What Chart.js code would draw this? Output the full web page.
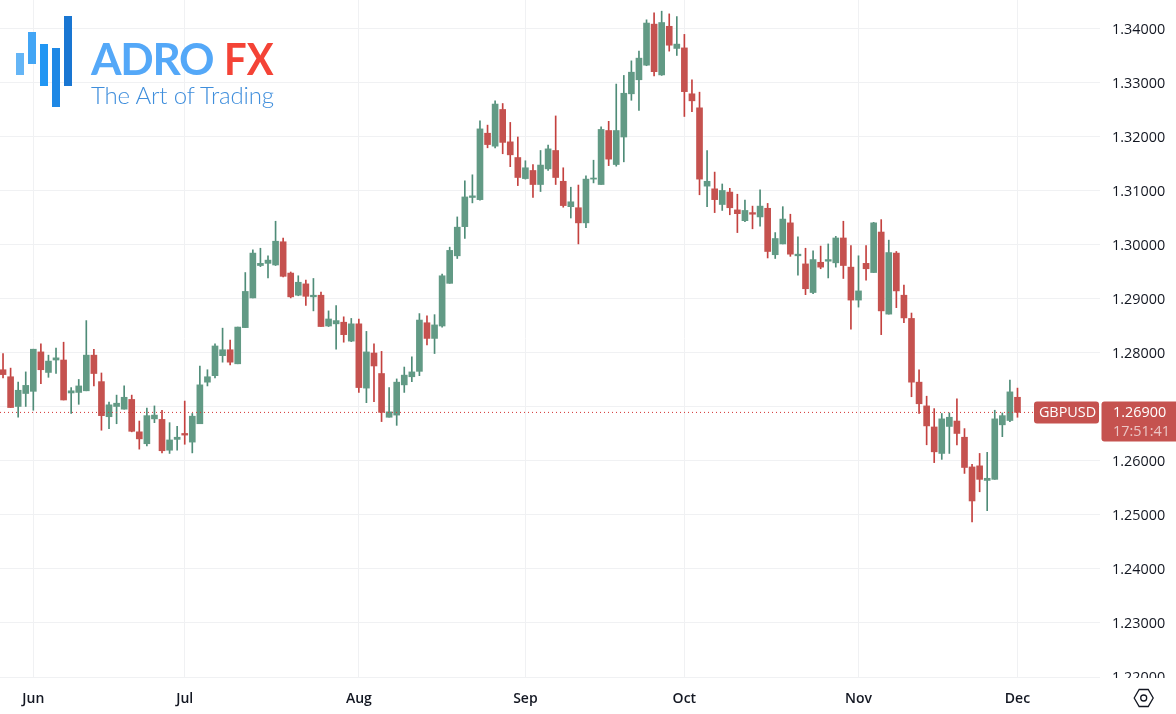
<!doctype html>
<html>
<head>
    <meta charset="UTF-8"/>
    <title>GBPUSD Chart</title>
    <style type="text/css">
        body { margin: 0; padding: 0; background-color: #fff; }
        #wrap { position: relative; width: 1176px; height: 714px; overflow: hidden; }
        canvas { position: absolute; left: 0; top: 0; }
        .bar { position: absolute; width: 8px; }
        .logo { position: absolute; white-space: nowrap; font-family: 'Lato', sans-serif; line-height: 1; transform-origin: left center; }
    </style>
</head>
<body>
<div id="wrap">
    <canvas id="myChart" width="1176" height="714"></canvas>
    <div class="bar" style="left:16px;top:53px;height:22px;background:#64b5f6"></div>
    <div class="bar" style="left:28px;top:32px;height:32px;background:#42a5f5"></div>
    <div class="bar" style="left:40px;top:44px;height:42px;background:#2196f3"></div>
    <div class="bar" style="left:52px;top:48px;height:59px;background:#1e88e5"></div>
    <div class="bar" style="left:64px;top:16px;height:70px;background:#1976d2"></div>
    <div class="logo" style="left:91px;top:36px;font-size:44px;font-weight:700;letter-spacing:-1.3px;color:#54a8f8">ADRO</div>
    <div class="logo" style="left:224px;top:36px;font-size:44px;font-weight:700;transform:scaleX(0.91);color:#f44336">FX</div>
    <div class="logo" style="left:91px;top:83px;font-size:24px;font-weight:300;letter-spacing:-0.15px;color:#3f8edc">The Art of Trading</div>
</div>

<script src="https://cdn.jsdelivr.net/npm/chart.js"></script>
<script>
    // Daily candles
    const opens = [
        1.2769,1.2756,1.2701,1.2725,1.2729,1.2802,1.2764,1.2787,1.2787,1.2726,
        1.2727,1.2730,1.2796,1.2747,1.2682,1.2701,1.2696,1.2714,1.2654,1.2632,
        1.2678,1.2677,1.2620,1.2640,1.2651,1.2635,1.2669,1.2746,1.2758,1.2795,
        1.2806,1.2780,1.2847,1.2902,1.2962,1.2966,1.2963,1.3006,1.2948,1.2907,
        1.2928,1.2904,1.2907,1.2850,1.2854,1.2857,1.2822,1.2854,1.2735,1.2800,
        1.2762,1.2681,1.2685,1.2741,1.2756,1.2766,1.2856,1.2827,1.2850,1.2929,
        1.2980,1.3034,1.3088,1.3084,1.3207,1.3183,1.3251,1.3191,1.3162,1.3123,
        1.3138,1.3112,1.3141,1.3175,1.3118,1.3071,1.3069,1.3041,1.3122,1.3112,
        1.3212,1.3149,1.3200,1.3280,1.3306,1.3333,1.3409,1.3315,1.3405,1.3364,
        1.3365,1.3280,1.3254,1.3109,1.3104,1.3075,1.3098,1.3065,1.3045,1.3060,
        1.3052,1.3068,1.2982,1.3002,1.3041,1.2980,1.2965,1.2912,1.2968,1.2970,
        1.2967,1.3013,1.2959,1.2898,1.2966,1.2949,1.3024,1.2872,1.2985,1.2907,
        1.2864,1.2746,1.2702,1.2663,1.2614,1.2664,1.2674,1.2644,1.2589,1.2591,
        1.2564,1.2566,1.2667,1.2675,1.2718
    ];
    const highs = [
        1.2799,1.2772,1.2746,1.2765,1.2807,1.2817,1.2796,1.2809,1.2820,1.2736,
        1.2751,1.2860,1.2807,1.2763,1.2709,1.2722,1.2739,1.2722,1.2674,1.2698,
        1.2702,1.2694,1.2671,1.2664,1.2711,1.2688,1.2776,1.2769,1.2817,1.2846,
        1.2824,1.2848,1.2949,1.2991,1.2994,1.2980,1.3044,1.3013,1.2950,1.2943,
        1.2935,1.2938,1.2913,1.2878,1.2888,1.2867,1.2864,1.2863,1.2840,1.2817,
        1.2803,1.2736,1.2752,1.2774,1.2793,1.2873,1.2869,1.2871,1.2946,1.2996,
        1.3052,1.3119,1.3130,1.3230,1.3222,1.3267,1.3262,1.3227,1.3200,1.3156,
        1.3149,1.3175,1.3185,1.3239,1.3143,1.3107,1.3111,1.3128,1.3157,1.3219,
        1.3229,1.3298,1.3314,1.3341,1.3359,1.3417,1.3430,1.3433,1.3428,1.3423,
        1.3390,1.3306,1.3283,1.3175,1.3135,1.3113,1.3105,1.3094,1.3083,1.3072,
        1.3102,1.3077,1.3023,1.3071,1.3057,1.3015,1.2994,1.2989,1.2998,1.3002,
        1.3016,1.3044,1.2999,1.2980,1.2999,1.3042,1.3047,1.3009,1.2988,1.2926,
        1.2874,1.2769,1.2720,1.2697,1.2688,1.2689,1.2715,1.2660,1.2594,1.2614,
        1.2616,1.2694,1.2689,1.2750,1.2735
    ];
    const lows = [
        1.2754,1.2699,1.2681,1.2701,1.2694,1.2743,1.2755,1.2762,1.2713,1.2688,
        1.2705,1.2730,1.2739,1.2657,1.2660,1.2669,1.2696,1.2654,1.2622,1.2628,
        1.2671,1.2615,1.2614,1.2620,1.2631,1.2615,1.2669,1.2739,1.2754,1.2783,
        1.2778,1.2780,1.2847,1.2902,1.2960,1.2939,1.2962,1.2941,1.2902,1.2906,
        1.2888,1.2878,1.2849,1.2849,1.2807,1.2820,1.2821,1.2727,1.2708,1.2710,
        1.2673,1.2681,1.2666,1.2727,1.2747,1.2758,1.2815,1.2799,1.2848,1.2929,
        1.2975,1.3012,1.3078,1.3083,1.3180,1.3180,1.3169,1.3145,1.3110,1.3122,
        1.3088,1.3099,1.3138,1.3112,1.3070,1.3050,1.3002,1.3032,1.3115,1.3112,
        1.3147,1.3146,1.3154,1.3268,1.3249,1.3332,1.3313,1.3314,1.3359,1.3351,
        1.3238,1.3247,1.3093,1.3071,1.3060,1.3064,1.3056,1.3023,1.3043,1.3030,
        1.3035,1.2976,1.2975,1.3002,1.2979,1.2944,1.2908,1.2910,1.2956,1.2939,
        1.2959,1.2938,1.2844,1.2885,1.2935,1.2949,1.2834,1.2872,1.2884,1.2856,
        1.2719,1.2688,1.2630,1.2597,1.2603,1.2614,1.2630,1.2577,1.2487,1.2543,
        1.2508,1.2566,1.2645,1.2673,1.2681
    ];
    const closes = [
        1.2760,1.2699,1.2731,1.2740,1.2807,1.2769,1.2785,1.2791,1.2713,1.2730,
        1.2739,1.2796,1.2762,1.2684,1.2704,1.2707,1.2718,1.2655,1.2641,1.2684,
        1.2685,1.2619,1.2639,1.2644,1.2648,1.2683,1.2741,1.2756,1.2813,1.2806,
        1.2783,1.2848,1.2914,1.2985,1.2966,1.2972,1.3007,1.2942,1.2904,1.2931,
        1.2905,1.2907,1.2849,1.2863,1.2860,1.2834,1.2854,1.2736,1.2802,1.2776,
        1.2690,1.2691,1.2746,1.2759,1.2765,1.2861,1.2827,1.2852,1.2943,1.2990,
        1.3033,1.3089,1.3091,1.3215,1.3186,1.3261,1.3190,1.3167,1.3125,1.3143,
        1.3112,1.3148,1.3178,1.3125,1.3073,1.3080,1.3041,1.3122,1.3124,1.3214,
        1.3159,1.3212,1.3281,1.3320,1.3346,1.3411,1.3321,1.3412,1.3370,1.3372,
        1.3284,1.3267,1.3122,1.3118,1.3084,1.3101,1.3069,1.3058,1.3064,1.3057,
        1.3072,1.2988,1.3012,1.3048,1.2983,1.2983,1.2919,1.2973,1.2959,1.2973,
        1.3013,1.2962,1.2898,1.2915,1.2956,1.3041,1.2878,1.2986,1.2915,1.2865,
        1.2746,1.2706,1.2665,1.2617,1.2678,1.2681,1.2651,1.2588,1.2526,1.2566,
        1.2568,1.2678,1.2684,1.2728,1.2690
    ];

    // Axis labels
    const monthNames = ['Jun', 'Jul', 'Aug', 'Sep', 'Oct', 'Nov', 'Dec'];
    const monthCandle = [4, 24, 47, 69, 90, 113, 134];
    const priceTicks = [1.22, 1.23, 1.24, 1.25, 1.26, 1.27, 1.28, 1.29, 1.30, 1.31, 1.32, 1.33, 1.34];
    const coveredTick = 1.27; // sits behind the price tag, no label

    const symbol = 'GBPUSD';
    const lastPrice = 1.269;
    const countdown = '17:51:41';

    // Visible range
    const viewLeft = -0.4;
    const viewRight = 144.9;
    const viewBottom = 1.22;
    const viewTop = 1.34537;

    const upBody = '#629a85';
    const upWick = '#4f8c78';
    const downBody = '#c5524f';
    const downWick = '#c4413f';
    const gridColor = '#f0f1f3';
    const textColor = '#131722';
    const tagColor = '#c5524f';
    const axisFont = "'Open Sans', sans-serif";

    const isUp = closes.map((c, i) => c >= opens[i]);
    const bodies = closes.map((c, i) => ({ x: i, y: [opens[i], c] }));
    const wicks = closes.map((c, i) => ({ x: i, y: [lows[i], highs[i]] }));

    // Price tags on the right and the settings icon in the corner
    const overlay = {
        id: 'overlay',
        afterDraw(chart) {
            const ctx = chart.ctx;
            const y = chart.scales.y.getPixelForValue(lastPrice);
            ctx.save();

            // cuts off the lowest price label
            ctx.fillStyle = '#fff';
            ctx.fillRect(1100, 678, 76, 36);

            ctx.fillStyle = tagColor;
            ctx.beginPath();
            ctx.roundRect(1034, y - 11, 65, 22, 3);
            ctx.fill();
            ctx.beginPath();
            ctx.roundRect(1101.5, y - 11, 74.5, 40, [3, 0, 0, 3]);
            ctx.fill();

            ctx.textBaseline = 'middle';
            ctx.textAlign = 'center';
            ctx.font = '14.4px ' + axisFont;
            ctx.fillStyle = '#fff';
            ctx.fillText(symbol, 1067.5, y + 1);
            ctx.textAlign = 'left';
            ctx.fillText(lastPrice.toFixed(5), 1113, y + 1);
            ctx.fillStyle = '#ecc6c5';
            ctx.fillText(countdown, 1113, y + 20);

            // hexagon
            const cx = 1143.7, cy = 698;
            ctx.strokeStyle = textColor;
            ctx.lineWidth = 1.3;
            ctx.beginPath();
            ctx.moveTo(cx - 9.5, cy);
            ctx.lineTo(cx - 4.5, cy - 8.5);
            ctx.lineTo(cx + 4.5, cy - 8.5);
            ctx.lineTo(cx + 9.5, cy);
            ctx.lineTo(cx + 4.5, cy + 8.5);
            ctx.lineTo(cx - 4.5, cy + 8.5);
            ctx.closePath();
            ctx.stroke();
            ctx.beginPath();
            ctx.arc(cx, cy, 3, 0, Math.PI * 2);
            ctx.stroke();
            ctx.restore();
        }
    };

    const config = {
        type: 'bar',
        data: {
            datasets: [
                {
                    type: 'line',
                    data: [{ x: viewLeft, y: lastPrice }, { x: viewRight, y: lastPrice }],
                    borderColor: '#d32f2f',
                    borderWidth: 1,
                    borderDash: [1, 3],
                    pointRadius: 0,
                    order: 0
                },
                {
                    data: bodies,
                    backgroundColor: isUp.map(u => u ? upBody : downBody),
                    barThickness: 6,
                    order: 1
                },
                {
                    data: wicks,
                    backgroundColor: isUp.map(u => u ? upWick : downWick),
                    barThickness: 1,
                    order: 2
                }
            ]
        },
        options: {
            responsive: false,
            animation: false,
            grouped: false,
            plugins: { legend: { display: false }, tooltip: { enabled: false } },
            layout: { padding: 0 },
            scales: {
                x: {
                    type: 'linear',
                    offset: false,
                    min: viewLeft,
                    max: viewRight,
                    afterFit(scale) {
                        scale.height = 37;
                        scale.paddingLeft = 0;
                        scale.paddingRight = 0;
                    },
                    afterBuildTicks(scale) { scale.ticks = monthCandle.map(v => ({ value: v })); },
                    border: { display: false },
                    grid: { color: gridColor, drawTicks: false, offset: false },
                    ticks: {
                        autoSkip: false,
                        maxRotation: 0,
                        padding: 14,
                        color: textColor,
                        font: { family: axisFont, size: 14, weight: '600' },
                        callback: v => monthNames[monthCandle.indexOf(v)]
                    }
                },
                y: {
                    position: 'right',
                    min: viewBottom,
                    max: viewTop,
                    afterFit(scale) {
                        scale.width = 76;
                        scale.paddingTop = 0;
                        scale.paddingBottom = 0;
                    },
                    afterBuildTicks(scale) { scale.ticks = priceTicks.map(v => ({ value: v })); },
                    border: { display: false },
                    grid: { color: gridColor, drawTicks: false },
                    ticks: {
                        padding: 12,
                        labelOffset: 1,
                        color: textColor,
                        font: { family: axisFont, size: 14.4 },
                        callback: v => v === coveredTick ? '' : v.toFixed(5)
                    }
                }
            }
        },
        plugins: [overlay]
    };

    const myChart = new Chart(document.getElementById('myChart'), config);
</script>
</body>
</html>
